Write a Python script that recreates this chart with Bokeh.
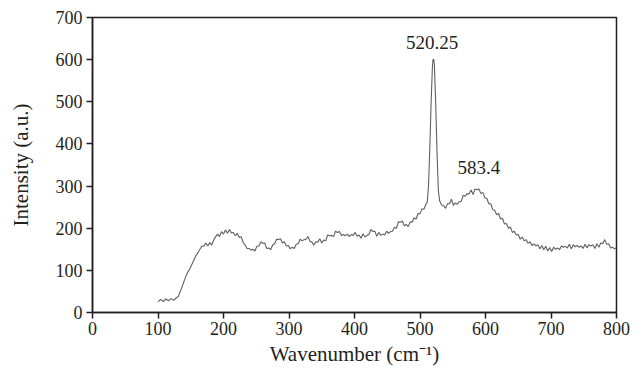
from bokeh.plotting import figure
from bokeh.models import Label, FixedTicker
from bokeh.embed import file_html
from bokeh.resources import INLINE

wavenumber = [100, 104, 108, 112, 116, 120, 124, 128, 131, 134, 137, 140, 143, 146, 149, 152, 155, 158, 161, 164,
              167, 170, 173, 176, 179, 182, 185, 188, 191, 194, 197, 200, 203, 206, 209, 212, 215, 218, 221, 224,
              227, 230, 233, 236, 239, 242, 245, 248, 251, 254, 257, 260, 263, 266, 269, 272, 275, 278, 281, 284,
              287, 290, 293, 296, 299, 302, 305, 308, 311, 314, 317, 320, 323, 326, 329, 332, 335, 338, 341, 344,
              347, 350, 353, 356, 359, 362, 365, 368, 371, 374, 377, 380, 383, 386, 389, 392, 395, 398, 401, 404,
              407, 410, 413, 416, 419, 422, 425, 428, 431, 434, 437, 440, 443, 446, 449, 452, 455, 458, 461, 464,
              467, 470, 473, 476, 479, 482, 485, 488, 491, 494, 497, 500, 503, 506, 509, 511, 513, 515, 517, 519,
              520, 521, 522, 524, 526, 528, 530, 533, 536, 539, 542, 545, 548, 551, 554, 557, 560, 563, 566, 569,
              572, 575, 578, 581, 584, 587, 590, 593, 596, 599, 602, 605, 608, 611, 614, 617, 620, 623, 626, 629,
              632, 635, 638, 641, 644, 647, 650, 653, 656, 659, 662, 665, 668, 671, 674, 677, 680, 683, 686, 689,
              692, 695, 698, 701, 704, 707, 710, 713, 716, 719, 722, 725, 728, 731, 734, 737, 740, 743, 746, 749,
              752, 755, 758, 761, 764, 767, 770, 773, 776, 779, 782, 785, 788, 791, 794, 797, 800]

intensity = [25, 31, 26, 32, 28, 33, 29, 35, 38, 50, 62, 75, 88, 97, 105, 115, 125, 135, 142, 150,
             158, 157, 165, 158, 166, 160, 172, 180, 186, 180, 192, 186, 196, 188, 197, 189, 190, 182, 188, 178,
             180, 166, 160, 152, 152, 148, 150, 146, 157, 158, 168, 164, 165, 152, 153, 149, 160, 163, 174, 173,
             175, 165, 168, 158, 159, 151, 155, 152, 162, 163, 174, 170, 173, 174, 180, 169, 167, 160, 168, 167,
             175, 165, 172, 170, 184, 182, 183, 180, 193, 190, 192, 183, 185, 182, 186, 180, 185, 183, 190, 181,
             184, 176, 187, 179, 183, 185, 197, 192, 193, 181, 190, 183, 186, 184, 193, 188, 192, 193, 202, 200,
             215, 214, 217, 206, 209, 204, 215, 214, 225, 222, 235, 234, 246, 245, 257, 262, 300, 390, 500, 585,
             601, 600, 588, 495, 380, 290, 265, 255, 254, 247, 258, 258, 269, 254, 260, 257, 263, 264, 278, 276,
             282, 281, 291, 280, 293, 291, 293, 282, 285, 272, 271, 258, 258, 244, 243, 232, 235, 222, 223, 210,
             211, 200, 203, 190, 193, 184, 185, 174, 179, 170, 173, 164, 168, 159, 163, 158, 161, 151, 159, 149,
             157, 146, 154, 145, 155, 150, 153, 149, 158, 155, 157, 153, 162, 151, 161, 156, 159, 155, 158, 152,
             162, 153, 161, 158, 161, 152, 163, 155, 165, 163, 173, 162, 163, 153, 155, 151, 154]

x_ticks = [0, 100, 200, 300, 400, 500, 600, 700, 800]
y_ticks = [0, 100, 200, 300, 400, 500, 600, 700]

peak_labels = ["520.25", "583.4"]
peak_label_x = [518.6, 590]
peak_label_y = [641, 345]

FONT = "Liberation Serif"
INK = "#231f20"

p = figure(width=644, height=375, x_range=(0, 800), y_range=(0, 700),
           output_backend="svg", toolbar_location=None,
           min_border_left=92, min_border_right=28, min_border_top=17, min_border_bottom=63)

p.line(wavenumber, intensity, line_color="#606060", line_width=1.1)

p.xgrid.visible = False
p.ygrid.visible = False
p.outline_line_color = INK
p.outline_line_width = 1.5
p.outline_line_alpha = 1
p.background_fill_color = "white"
p.border_fill_color = "white"

for ax in (p.xaxis[0], p.yaxis[0]):
    ax.axis_line_color = INK
    ax.axis_line_width = 1.5
    ax.major_tick_line_color = INK
    ax.major_tick_line_width = 1.5
    ax.minor_tick_line_color = None
    ax.major_tick_in = 0
    ax.major_tick_out = 6
    ax.major_label_text_font = FONT
    ax.major_label_text_font_size = "18px"
    ax.major_label_text_color = INK
    ax.axis_label_text_font = FONT
    ax.axis_label_text_font_size = "21px"
    ax.axis_label_text_font_style = "normal"
    ax.axis_label_text_color = INK

p.xaxis.ticker = FixedTicker(ticks=x_ticks)
p.yaxis.ticker = FixedTicker(ticks=y_ticks)
p.xaxis.axis_label = "Wavenumber (cm\u207b\u00b9)"
p.yaxis.axis_label = "Intensity (a.u.)"
p.xaxis.major_label_standoff = 3
p.yaxis.major_label_standoff = 4
p.xaxis.axis_label_standoff = 4
p.yaxis.axis_label_standoff = 20

for t, lx, ly in zip(peak_labels, peak_label_x, peak_label_y):
    p.add_layout(Label(x=lx, y=ly, text=t, text_align="center", text_baseline="middle",
                       text_font=FONT, text_font_size="19px", text_color=INK))

open("out.html", "w").write(file_html(p, INLINE))
